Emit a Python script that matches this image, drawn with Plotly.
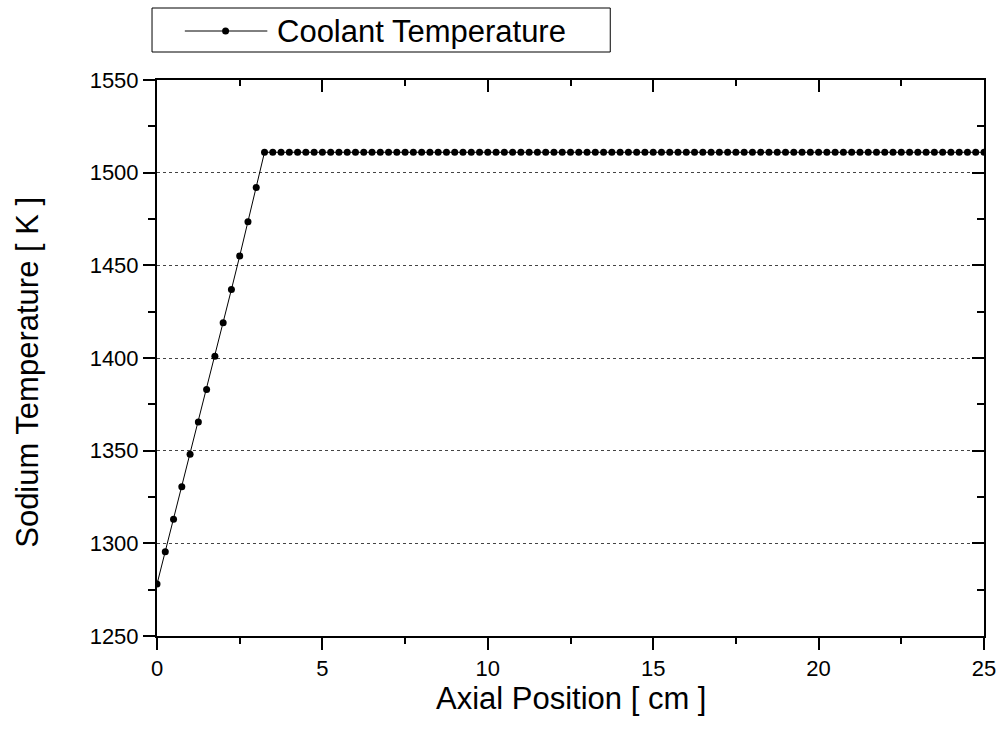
import plotly.graph_objects as go

# ---- data ----
ramp_x = [0.0, 0.25, 0.5, 0.75, 1.0, 1.25, 1.5, 1.75, 2.0, 2.25, 2.5, 2.75, 3.0]
ramp_y = [1278, 1295.5, 1313, 1330.5, 1348, 1365.5, 1383, 1401, 1419, 1437, 1455, 1473.5, 1492]
plateau_x = [3.25, 3.5, 3.75, 4.0, 4.25, 4.5, 4.75, 5.0, 5.25, 5.5, 5.75, 6.0, 6.25, 6.5, 6.75,
             7.0, 7.25, 7.5, 7.75, 8.0, 8.25, 8.5, 8.75, 9.0, 9.25, 9.5, 9.75, 10.0, 10.25, 10.5,
             10.75, 11.0, 11.25, 11.5, 11.75, 12.0, 12.25, 12.5, 12.75, 13.0, 13.25, 13.5, 13.75,
             14.0, 14.25, 14.5, 14.75, 15.0, 15.25, 15.5, 15.75, 16.0, 16.25, 16.5, 16.75, 17.0,
             17.25, 17.5, 17.75, 18.0, 18.25, 18.5, 18.75, 19.0, 19.25, 19.5, 19.75, 20.0, 20.25,
             20.5, 20.75, 21.0, 21.25, 21.5, 21.75, 22.0, 22.25, 22.5, 22.75, 23.0, 23.25, 23.5,
             23.75, 24.0, 24.25, 24.5, 24.75, 25.0]
plateau_y = [1511] * len(plateau_x)

x_vals = ramp_x + plateau_x
y_vals = ramp_y + plateau_y

series_name = "Coolant Temperature"
x_title = "Axial Position [ cm ]"
y_title = "Sodium Temperature [ K ]"
x_range = [0, 25]
y_range = [1250, 1550]

FONT = "Arial, Liberation Sans, sans-serif"

fig = go.Figure()
fig.add_trace(go.Scatter(
    x=x_vals, y=y_vals, mode="lines+markers", name=series_name,
    line=dict(color="black", width=1),
    marker=dict(color="black", size=7),
    showlegend=False,
))
# invisible trace on mirror axes so they are drawn
fig.add_trace(go.Scatter(
    x=x_range, y=y_range, xaxis="x2", yaxis="y2", mode="markers",
    marker=dict(opacity=0), hoverinfo="skip", showlegend=False,
))

L, R, T, B = 157, 19, 80, 98
W, H = 1008, 734
pw, ph = W - L - R, H - T - B

def px_x(p):
    return (p - L) / pw

def px_y(p):
    return (H - B - p) / ph

fig.update_layout(
    width=W, height=H,
    margin=dict(l=L, r=R, t=T, b=B),
    paper_bgcolor="white", plot_bgcolor="white",
    font=dict(family=FONT, color="black"),
    xaxis=dict(
        range=x_range, dtick=5, tick0=0, ticks="outside", ticklen=12, tickwidth=2,
        tickcolor="black", showline=True, linecolor="black", linewidth=2,
        showgrid=False, zeroline=False, tickfont=dict(size=22),
        minor=dict(dtick=2.5, ticks="outside", ticklen=6, tickwidth=2, tickcolor="black", showgrid=False),
    ),
    yaxis=dict(
        range=y_range, dtick=50, tick0=1250, ticks="outside", ticklen=12, tickwidth=2,
        tickcolor="black", showline=True, linecolor="black", linewidth=2,
        showgrid=True, gridcolor="#444444", griddash="dot", gridwidth=1,
        zeroline=False, tickfont=dict(size=22),
        minor=dict(dtick=25, ticks="outside", ticklen=7, tickwidth=2, tickcolor="black", showgrid=False),
    ),
    xaxis2=dict(
        range=x_range, overlaying="x", side="top", dtick=5, tick0=0, ticks="inside",
        ticklen=12, tickwidth=2, tickcolor="black", showline=True, linecolor="black",
        linewidth=2, showticklabels=False, showgrid=False, zeroline=False,
        minor=dict(dtick=2.5, ticks="inside", ticklen=6, tickwidth=2, tickcolor="black", showgrid=False),
    ),
    yaxis2=dict(
        range=y_range, overlaying="y", side="right", dtick=50, tick0=1250, ticks="inside",
        ticklen=12, tickwidth=2, tickcolor="black", showline=True, linecolor="black",
        linewidth=2, showticklabels=False, showgrid=False, zeroline=False,
        minor=dict(dtick=25, ticks="inside", ticklen=7, tickwidth=2, tickcolor="black", showgrid=False),
    ),
    showlegend=False,
)

# axis titles
fig.add_annotation(text=x_title, xref="paper", yref="paper", x=0.5, y=px_y(698),
                   xanchor="center", yanchor="middle", showarrow=False,
                   font=dict(size=31, family=FONT, color="black"))
fig.add_annotation(text=y_title, xref="paper", yref="paper", x=px_x(26), y=px_y(372),
                   xanchor="center", yanchor="middle", showarrow=False, textangle=-90,
                   font=dict(size=31, family=FONT, color="black"))

# manual legend box (Origin style)
fig.add_shape(type="rect", xref="paper", yref="paper",
              x0=px_x(152), x1=px_x(613), y0=px_y(52), y1=px_y(8),
              line=dict(color="black", width=1), fillcolor="white", layer="above")
fig.add_shape(type="line", xref="paper", yref="paper",
              x0=px_x(185), x1=px_x(268), y0=px_y(31), y1=px_y(31),
              line=dict(color="black", width=1), layer="above")
fig.add_shape(type="circle", xref="paper", yref="paper",
              x0=px_x(222.5), x1=px_x(229.5), y0=px_y(34.5), y1=px_y(27.5),
              line=dict(color="black", width=0), fillcolor="black", layer="above")
fig.add_annotation(text=series_name, xref="paper", yref="paper", x=px_x(276), y=px_y(31),
                   xanchor="left", yanchor="middle", showarrow=False,
                   font=dict(size=31, family=FONT, color="black"))

fig.write_html("out.html")
